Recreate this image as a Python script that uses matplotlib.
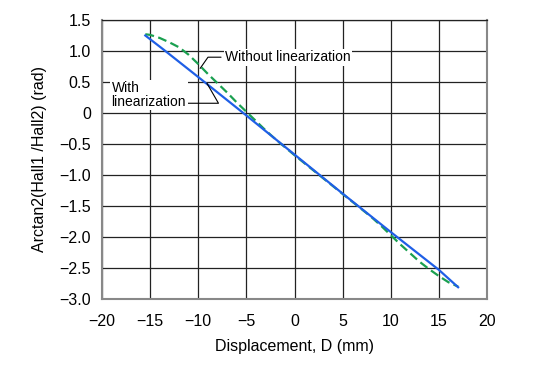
import matplotlib.pyplot as plt
import numpy as np

# data
x_with = [-15.5, -13.5, -10, -5, 0, 5, 10, 15, 17]
y_with = [1.25, 1.01, 0.58, -0.04, -0.67, -1.30, -1.92, -2.53, -2.81]

x_without = [-15.5, -15, -14, -13, -12, -11, -10, -9, -8, -7, -6, -5, -4, -3, -2, -1, 0,
             2, 4, 6, 8, 9, 10, 11, 12, 13, 14, 15, 16, 17]
y_without = [1.27, 1.26, 1.21, 1.14, 1.06, 0.94, 0.79, 0.63, 0.48, 0.33, 0.17, 0.02, -0.13,
             -0.28, -0.42, -0.55, -0.68, -0.93, -1.18, -1.43, -1.68, -1.82, -1.97, -2.12,
             -2.26, -2.40, -2.52, -2.63, -2.73, -2.80]

x_ticks = [-20, -15, -10, -5, 0, 5, 10, 15, 20]
y_ticks = [1.5, 1.0, 0.5, 0, -0.5, -1.0, -1.5, -2.0, -2.5, -3.0]
y_tick_labels = ["1.5", "1.0", "0.5", "0", "\u22120.5", "\u22121.0", "\u22121.5",
                 "\u22122.0", "\u22122.5", "\u22123.0"]
x_tick_labels = ["\u221220", "\u221215", "\u221210", "\u22125", "0", "5", "10", "15", "20"]


def main():
    plt.rcParams["font.family"] = ["Liberation Sans", "DejaVu Sans"]
    fig = plt.figure(figsize=(5.42, 3.66), dpi=100)
    ax = fig.add_axes([102 / 542, 1 - 299 / 366, (487 - 102) / 542, (299 - 20) / 366])

    ax.plot(x_without, y_without, color="#1aa050", linewidth=1.6, linestyle=(0, (4, 2)), zorder=3)
    ax.plot(x_with, y_with, color="#1f5fe6", linewidth=1.6, zorder=4)

    ax.set_xlim(-20, 20)
    ax.set_ylim(-3.0, 1.5)
    ax.set_xticks(x_ticks)
    ax.set_xticklabels(x_tick_labels)
    ax.set_yticks(y_ticks)
    ax.set_yticklabels(y_tick_labels)
    ax.tick_params(length=0, labelsize=11.5)
    ax.tick_params(axis="x", pad=11)
    ax.tick_params(axis="y", pad=8)
    ax.grid(True, color="#222222", linewidth=0.9)
    ax.set_axisbelow(True)
    for side in ["left", "bottom", "right", "top"]:
        ax.spines[side].set_color("#888888")
        ax.spines[side].set_linewidth(1.5)
    ax.spines["top"].set_color("#222222")
    ax.spines["top"].set_linewidth(0.9)

    ax.set_xlabel("Displacement, D (mm)", fontsize=11.5, labelpad=7)
    ax.set_ylabel("Arctan2(Hall1 /Hall2) (rad)", fontsize=11.5, labelpad=9)

    box = dict(facecolor="white", edgecolor="none", pad=1)
    ax.annotate("Without linearization", xy=(-9.8, 0.72), xytext=(-7.2, 0.90),
                fontsize=10, va="center", ha="left", bbox=box, zorder=5,
                arrowprops=dict(arrowstyle="-", color="black", lw=0.8,
                                connectionstyle="angle,angleA=0,angleB=55,rad=0",
                                shrinkA=2, shrinkB=0))
    ax.annotate("With\nlinearization", xy=(-9.1, 0.48), xytext=(-19.0, 0.29),
                fontsize=10, va="center", ha="left", linespacing=0.95, bbox=box, zorder=5,
                arrowprops=dict(arrowstyle="-", color="black", lw=0.8,
                                connectionstyle="angle,angleA=0,angleB=-60,rad=0",
                                shrinkA=0, shrinkB=0, relpos=(1.0, 0.2)))

    fig.savefig("out.png", dpi=100)


if __name__ == '__main__':
    main()
